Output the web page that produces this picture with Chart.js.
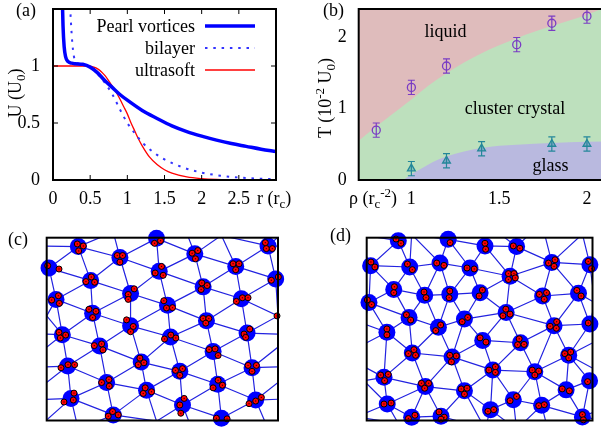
<!DOCTYPE html>
<html><head><meta charset="utf-8">
<script src="https://cdn.jsdelivr.net/npm/chart.js@4.4.0/dist/chart.umd.min.js"></script>
<style>
html,body{margin:0;padding:0;background:#fff;overflow:hidden;width:601px;height:429px;}
body{position:relative;font-family:"Liberation Serif",serif;}
canvas{position:absolute;}
.t{position:absolute;font:18px "Liberation Serif",serif;white-space:nowrap;color:#000;line-height:1;}
.rot{position:absolute;width:0;height:0;}
.rot > span{position:absolute;left:0;top:0;transform:translate(-50%,-50%) rotate(-90deg);white-space:nowrap;font:18px "Liberation Serif",serif;line-height:1;}
.sb{font-size:13px;position:relative;top:4px;}
.sp{font-size:13px;position:relative;top:-7px;}
</style></head><body>
<canvas id="ca" width="300" height="210" style="left:0;top:0"></canvas>
<canvas id="cb" width="320" height="210" style="left:300px;top:0"></canvas>
<canvas id="cc" width="300" height="209" style="left:0;top:220px"></canvas>
<canvas id="cd" width="301" height="209" style="left:300px;top:220px"></canvas>
<div class="t" style="left:16px;top:1px">(a)</div>
<div class="t" style="left:323px;top:1px">(b)</div>
<div class="t" style="left:8px;top:230px">(c)</div>
<div class="t" style="left:330px;top:226px">(d)</div>
<div class="t" style="left:257px;top:189px">r (r<span class="sb">c</span>)</div>
<div class="t" style="left:349px;top:189px">ρ (r<span class="sb">c</span><span class="sp">-2</span>)</div>
<div class="rot" style="left:15px;top:93px"><span>U (U<span class="sb">0</span>)</span></div>
<div class="rot" style="left:325px;top:98px"><span>T (10<span class="sp">-2</span> U<span class="sb">0</span>)</span></div>
<script>
// ---------- panel (a): potentials ----------
const pearlR = [0.125,0.135,0.15,0.17,0.2,0.25,0.3,0.4,0.5,0.6,0.7,0.8,0.9,1.0,1.2,1.4,1.6,1.8,2.0,2.2,2.4,2.6,2.8,3.0];
const pearlU = [1.6,1.35,1.17,1.08,1.04,1.025,1.02,1.015,0.99,0.94,0.87,0.81,0.75,0.70,0.61,0.54,0.475,0.425,0.385,0.35,0.32,0.295,0.27,0.25];
const bilR = [0.225,0.24,0.26,0.28,0.3,0.35,0.4,0.5,0.6,0.7,0.8,0.9,1.0,1.1,1.2,1.3,1.4,1.5,1.75,2.0,2.25,2.5,2.75,3.0];
const bilU = [1.6,1.4,1.2,1.09,1.04,1.02,1.015,0.99,0.93,0.85,0.75,0.62,0.5,0.41,0.33,0.27,0.22,0.18,0.11,0.065,0.038,0.022,0.012,0.007];
const usR = [0,0.3,0.45,0.5,0.55,0.6,0.65,0.7,0.75,0.8,0.85,0.9,0.95,1.0,1.05,1.1,1.15,1.2,1.3,1.4,1.5,1.6,1.8,2.0,2.2,2.5,3.0];
const usU = [1,1,1,0.998,0.99,0.975,0.95,0.915,0.87,0.82,0.77,0.71,0.645,0.58,0.5,0.43,0.36,0.30,0.20,0.135,0.09,0.06,0.027,0.012,0.005,0.001,0];
const aTicksX = [0,0.5,1,1.5,2,2.5];
const aTicksY = [0,0.5,1];
const aMarksX = [0.5,1,1.5,2,2.5];
const aMarksY = [0.5,1];

// ---------- panel (b): phase diagram ----------
const circX = [0.8,1.0,1.2,1.6,1.8,2.0];
const circT = [0.70,1.30,1.60,1.90,2.20,2.30];
const circE = [0.1,0.1,0.1,0.1,0.1,0.1];
const triX = [1.0,1.2,1.4,1.8,2.0];
const triT = [0.16,0.27,0.44,0.505,0.505];
const triE = [0.1,0.1,0.1,0.1,0.1];
const liqX = [0.70,0.80,0.90,1.00,1.10,1.20,1.30,1.40,1.50,1.60,1.70,1.80,1.90,2.00,2.10];
const liqT = [0.55,0.75,0.94,1.13,1.33,1.50,1.65,1.78,1.89,1.99,2.08,2.16,2.24,2.32,2.42];
const glX = [0.70,0.944,1.0,1.05,1.12,1.2,1.3,1.4,1.5,1.7,1.9,2.1];
const glT = [0,0,0.08,0.15,0.25,0.33,0.40,0.45,0.48,0.51,0.53,0.54];
const bTicksX = [1,1.5,2];
const bTicksY = [0,1,2];

// ---------- panel (c): cluster crystal snapshot ----------
const cCX = [235,470,585,805,147,360,478,708,828,272,610,392,168,725,503,278,620,392,187,742,512,299,640,424,203,757,540,320,654,440,213,548,768,340,665];
const cCY = [80,55,102,78,145,113,155,140,178,183,202,222,240,238,258,282,305,320,347,342,354,381,398,430,442,447,458,492,497,515,540,560,545,590,600];
const cSiteX = [835];
const cSiteY = [290];
const cRX = [232,250,236,464,482,577,594,587,797,800,818,143,177,352,368,360,466,485,490,700,718,708,815,836,258,274,284,606,622,604,385,403,385,155,175,178,710,728,745,492,500,518,267,288,278,610,627,618,832,380,400,392,177,181,197,733,750,738,494,513,528,283,305,309,628,646,655,420,432,415,183,204,224,745,770,757,527,548,540,305,327,328,640,655,668,430,436,455,192,222,220,553,540,543,748,768,785,325,338,355,650,682];
const cRY = [72,78,93,70,62,100,92,117,68,86,86,138,148,107,107,127,160,140,167,132,132,150,182,172,186,172,188,190,198,210,225,208,240,242,229,252,246,235,235,244,266,265,270,276,295,298,298,312,290,302,322,338,340,357,348,345,330,355,360,348,357,380,375,393,392,390,410,418,432,438,447,438,438,440,440,458,455,450,470,492,483,503,508,485,500,525,508,520,551,524,545,540,560,585,556,548,537,594,580,590,600,602];

// ---------- panel (d): cluster glass snapshot ----------
const dCX = [297,450,563,660,212,332,425,517,768,885,640,283,378,455,548,740,850,207,628,330,500,420,775,885,262,556,672,340,820,462,587,716,253,380,884,500,812,650,263,737,428,580,338,862];
const dCY = [62,58,78,80,138,142,130,145,128,135,170,210,228,225,220,230,222,250,280,295,300,325,320,315,340,365,372,403,410,415,455,460,477,505,487,518,515,545,558,562,595,575,598,597];
const dRX = [290,305,456,563,565,650,670,213,225,325,340,415,437,508,530,758,778,775,880,890,635,652,635,656,285,283,376,382,455,453,555,545,730,752,745,845,858,202,215,627,618,640,322,335,493,510,427,412,763,783,782,880,262,262,548,566,668,663,683,328,345,350,808,826,820,455,475,460,575,595,595,708,728,716,243,266,255,368,390,378,878,490,508,500,800,822,640,660,253,275,728,745,422,438,428,572,590,328,348,862,865];
const dRY = [57,70,68,70,88,78,85,127,142,133,150,130,137,145,148,130,120,140,125,147,162,162,180,175,202,220,218,235,215,235,212,230,225,220,240,213,230,242,256,270,290,285,287,303,308,295,318,335,322,308,328,312,330,348,357,370,360,378,377,405,393,410,405,400,418,410,412,430,455,445,462,455,458,470,470,468,487,495,495,510,490,512,510,528,512,518,548,535,558,555,563,560,582,598,604,580,575,602,592,590,606];

// ================= helpers =================
const serif = '"Liberation Serif", serif';
Chart.defaults.font.family = serif;
Chart.defaults.font.size = 18;
Chart.defaults.color = '#000';
Chart.defaults.animation = false;
const zip = (xs, ys) => xs.map((x, i) => ({x: x, y: ys[i]}));

const framePlugin = {
  id: 'frame',
  afterDraw(chart, args, o) {
    const ctx = chart.ctx, a = chart.chartArea;
    ctx.save();
    ctx.strokeStyle = '#000';
    if (o.marksX || o.marksY) {
      ctx.lineWidth = 1;
      ctx.beginPath();
      (o.marksX || []).forEach(v => {
        const px = chart.scales.x.getPixelForValue(v);
        ctx.moveTo(px, a.bottom); ctx.lineTo(px, a.bottom - 5);
        ctx.moveTo(px, a.top); ctx.lineTo(px, a.top + 5);
      });
      (o.marksY || []).forEach(v => {
        const py = chart.scales.y.getPixelForValue(v);
        ctx.moveTo(a.left, py); ctx.lineTo(a.left + 5, py);
        ctx.moveTo(a.right, py); ctx.lineTo(a.right - 5, py);
      });
      ctx.stroke();
    }
    ctx.lineWidth = o.lw || 2;
    ctx.strokeRect(a.left, a.top, a.right - a.left, a.bottom - a.top);
    ctx.restore();
  }
};

const legendPlugin = {
  id: 'glegend',
  afterDatasetsDraw(chart, args, o) {
    if (!o.on) return;
    const ctx = chart.ctx;
    chart.data.datasets.forEach((ds, i) => {
      const y = o.y0 + i * o.dy;
      ctx.save();
      ctx.font = '18px ' + serif;
      ctx.textAlign = 'right';
      ctx.textBaseline = 'alphabetic';
      ctx.fillStyle = '#000';
      ctx.fillText(ds.label, o.xText, y + 6);
      ctx.strokeStyle = ds.borderColor;
      ctx.lineWidth = ds.borderWidth;
      ctx.setLineDash(ds.borderDash || []);
      ctx.beginPath(); ctx.moveTo(o.x1, y); ctx.lineTo(o.x2, y); ctx.stroke();
      ctx.restore();
    });
  }
};

const bgPlugin = {
  id: 'bg',
  beforeDatasetsDraw(chart, args, o) {
    if (!o.color) return;
    const ctx = chart.ctx, a = chart.chartArea;
    ctx.save(); ctx.fillStyle = o.color;
    ctx.fillRect(a.left, a.top, a.right - a.left, a.bottom - a.top);
    ctx.restore();
  }
};

const errPlugin = {
  id: 'errbars',
  afterDatasetsDraw(chart) {
    const ctx = chart.ctx, sx = chart.scales.x, sy = chart.scales.y;
    chart.data.datasets.forEach(ds => {
      if (!ds.errs) return;
      ctx.save(); ctx.strokeStyle = ds.borderColor; ctx.lineWidth = 1.2;
      ctx.beginPath();
      ds.data.forEach((p, i) => {
        const px = sx.getPixelForValue(p.x);
        const y1 = sy.getPixelForValue(p.y - ds.errs[i]);
        const y2 = sy.getPixelForValue(p.y + ds.errs[i]);
        ctx.moveTo(px, y1); ctx.lineTo(px, y2);
        ctx.moveTo(px - 3.5, y1); ctx.lineTo(px + 3.5, y1);
        ctx.moveTo(px - 3.5, y2); ctx.lineTo(px + 3.5, y2);
      });
      ctx.stroke(); ctx.restore();
    });
  }
};

const notePlugin = {
  id: 'notes',
  afterDatasetsDraw(chart, args, o) {
    if (!o.items) return;
    const ctx = chart.ctx;
    ctx.save(); ctx.font = '18px ' + serif; ctx.fillStyle = '#000';
    ctx.textAlign = 'center'; ctx.textBaseline = 'alphabetic';
    o.items.forEach(it => {
      ctx.fillText(it.text, chart.scales.x.getPixelForValue(it.x), chart.scales.y.getPixelForValue(it.y));
    });
    ctx.restore();
  }
};

function axis(min, max, ticks, fitKey, fitVal, pad, extra) {
  return Object.assign({
    type: 'linear', min: min, max: max,
    afterBuildTicks: s => { s.ticks = ticks.map(v => ({value: v})); },
    afterFit: s => {
      s[fitKey] = fitVal;
      s.paddingTop = 0; s.paddingBottom = 0; s.paddingLeft = 0; s.paddingRight = 0;
    },
    grid: {display: false, drawTicks: false},
    border: {display: false},
    ticks: {padding: pad, autoSkip: false, maxRotation: 0, minRotation: 0, font: {size: 18, family: serif}, color: '#000',
            callback: v => String(v)}
  }, extra || {});
}

// ================= chart (a) =================
new Chart(document.getElementById('ca'), {
  type: 'line',
  data: {datasets: [
    {label: 'Pearl vortices', data: zip(pearlR, pearlU), borderColor: '#0000ff', borderWidth: 3.5, pointRadius: 0, cubicInterpolationMode: 'monotone', fill: false},
    {label: 'bilayer', data: zip(bilR, bilU), borderColor: '#3333ff', borderWidth: 2, borderDash: [2.5, 5.8], pointRadius: 0, cubicInterpolationMode: 'monotone', fill: false},
    {label: 'ultrasoft', data: zip(usR, usU), borderColor: '#ff0000', borderWidth: 1.3, pointRadius: 0, cubicInterpolationMode: 'monotone', fill: false}
  ]},
  options: {
    responsive: false, animation: false, events: [],
    layout: {padding: {top: 9, right: 24, left: 0, bottom: 0}},
    plugins: {legend: {display: false}, tooltip: {enabled: false},
      frame: {lw: 2, marksX: aMarksX, marksY: aMarksY},
      glegend: {on: true, xText: 195, x1: 205, x2: 255, y0: 26, dy: 22}},
    scales: {
      x: axis(0, 3, aTicksX, 'height', 30, 8),
      y: axis(0, 1.5, aTicksY, 'width', 53, 13)
    }
  },
  plugins: [framePlugin, legendPlugin]
});

// ================= chart (b) =================
new Chart(document.getElementById('cb'), {
  type: 'line',
  data: {datasets: [
    {label: 'liquid boundary', data: zip(liqX, liqT), borderWidth: 0, borderColor: 'rgba(0,0,0,0)', backgroundColor: '#bde0bd', pointRadius: 0, fill: 'origin', cubicInterpolationMode: 'monotone', order: 10},
    {label: 'glass boundary', data: zip(glX, glT), borderWidth: 0, borderColor: 'rgba(0,0,0,0)', backgroundColor: '#b9b9df', pointRadius: 0, fill: 'origin', cubicInterpolationMode: 'monotone', order: 9},
    {label: 'melting', data: zip(circX, circT), errs: circE, showLine: false, pointStyle: 'circle', pointRadius: 4, borderColor: '#7a3cc4', backgroundColor: 'rgba(0,0,0,0)', borderWidth: 1.3, order: 1},
    {label: 'glass', data: zip(triX, triT), errs: triE, showLine: false, pointStyle: 'triangle', pointRadius: 4.5, borderColor: '#23879a', backgroundColor: 'rgba(35,135,154,0.35)', borderWidth: 1.3, order: 2}
  ]},
  options: {
    responsive: false, animation: false, events: [],
    layout: {padding: {top: 9, right: 15.5, left: 0, bottom: 0}},
    plugins: {legend: {display: false}, tooltip: {enabled: false},
      bg: {color: '#dfbcbc'},
      frame: {lw: 2},
      notes: {items: [
        {text: 'liquid', x: 1.195, y: 2.01},
        {text: 'cluster crystal', x: 1.59, y: 0.92},
        {text: 'glass', x: 1.792, y: 0.12}
      ]}},
    scales: {
      x: axis(0.7, 2.1, bTicksX, 'height', 30, 8),
      y: axis(0, 2.4, bTicksY, 'width', 58.7, 12)
    }
  },
  plugins: [bgPlugin, errPlugin, notePlugin, framePlugin]
});

// ================= Delaunay (Bowyer-Watson) =================
function delaunayEdges(P) {
  const n = P.length;
  let minX = Infinity, minY = Infinity, maxX = -Infinity, maxY = -Infinity;
  P.forEach(p => { minX = Math.min(minX, p[0]); maxX = Math.max(maxX, p[0]); minY = Math.min(minY, p[1]); maxY = Math.max(maxY, p[1]); });
  const d = Math.max(maxX - minX, maxY - minY) * 20, mx = (minX + maxX) / 2, my = (minY + maxY) / 2;
  const Q = P.concat([[mx - d, my - d], [mx + d, my - d], [mx, my + d]]);
  function circ(t) {
    const a = Q[t[0]], b = Q[t[1]], c = Q[t[2]];
    const D = 2 * (a[0] * (b[1] - c[1]) + b[0] * (c[1] - a[1]) + c[0] * (a[1] - b[1]));
    const A = a[0] * a[0] + a[1] * a[1], B = b[0] * b[0] + b[1] * b[1], C = c[0] * c[0] + c[1] * c[1];
    const ux = (A * (b[1] - c[1]) + B * (c[1] - a[1]) + C * (a[1] - b[1])) / D;
    const uy = (A * (c[0] - b[0]) + B * (a[0] - c[0]) + C * (b[0] - a[0])) / D;
    return {t: t, x: ux, y: uy, r2: (a[0] - ux) ** 2 + (a[1] - uy) ** 2};
  }
  let T = [circ([n, n + 1, n + 2])];
  for (let i = 0; i < n; i++) {
    const px = Q[i][0], py = Q[i][1];
    const bad = [], good = [];
    T.forEach(c => { ((px - c.x) ** 2 + (py - c.y) ** 2 < c.r2 ? bad : good).push(c); });
    const cnt = new Map();
    bad.forEach(c => {
      const t = c.t;
      [[t[0], t[1]], [t[1], t[2]], [t[2], t[0]]].forEach(e => {
        const k = e[0] < e[1] ? e[0] + ',' + e[1] : e[1] + ',' + e[0];
        cnt.set(k, (cnt.get(k) || 0) + 1);
      });
    });
    cnt.forEach((v, k) => { if (v === 1) { const e = k.split(',').map(Number); good.push(circ([e[0], e[1], i])); } });
    T = good;
  }
  const edges = new Set();
  T.forEach(c => {
    const t = c.t;
    [[t[0], t[1]], [t[1], t[2]], [t[2], t[0]]].forEach(e => {
      if (e[0] >= n || e[1] >= n) return;
      edges.add(e[0] < e[1] ? e[0] + ',' + e[1] : e[1] + ',' + e[0]);
    });
  });
  return [...edges].map(k => k.split(',').map(Number));
}

function networkData(xs, ys, x0, x1, y0, y1) {
  const W = x1 - x0, H = y1 - y0;
  const pts = xs.map((x, i) => [x, ys[i]]);
  const all = pts.slice();
  const m = 160;
  for (let dx = -1; dx <= 1; dx++) for (let dy = -1; dy <= 1; dy++) {
    if (!dx && !dy) continue;
    pts.forEach(p => {
      const q = [p[0] + dx * W, p[1] + dy * H];
      if (q[0] < x0 - m || q[0] > x1 + m || q[1] < y0 - m || q[1] > y1 + m) return;
      if (all.some(r => (r[0] - q[0]) ** 2 + (r[1] - q[1]) ** 2 < 45 * 45)) return;
      all.push(q);
    });
  }
  const out = [];
  delaunayEdges(all).forEach(e => {
    const a = all[e[0]], b = all[e[1]];
    const inA = a[0] >= x0 - 60 && a[0] <= x1 + 60 && a[1] >= y0 - 60 && a[1] <= y1 + 60;
    const inB = b[0] >= x0 - 60 && b[0] <= x1 + 60 && b[1] >= y0 - 60 && b[1] <= y1 + 60;
    if (!inA && !inB) return;
    out.push({x: a[0], y: a[1]}, {x: b[0], y: b[1]}, {x: b[0], y: null});
  });
  return out;
}

function snapshot(id, CX, CY, SX, SY, RX, RY, x0, x1, y0, y1, pad) {
  const net = networkData(CX.concat(SX), CY.concat(SY), x0, x1, y0, y1);
  new Chart(document.getElementById(id), {
    type: 'scatter',
    data: {datasets: [
      {data: net, showLine: true, spanGaps: false, borderColor: '#2323e0', borderWidth: 1.2, pointRadius: 0, order: 4},
      {data: zip(CX, CY), pointRadius: 8.5, backgroundColor: '#0000ff', borderWidth: 0, clip: false, order: 3},
      {data: zip(RX, RY), pointRadius: 3, backgroundColor: '#ff0000', borderColor: '#000', borderWidth: 1, clip: false, order: 2},
      {data: zip(RX, RY), pointRadius: 0.7, backgroundColor: '#400000', borderWidth: 0, clip: false, order: 1}
    ]},
    options: {
      responsive: false, animation: false, events: [],
      layout: {padding: pad},
      plugins: {legend: {display: false}, tooltip: {enabled: false}, frame: {lw: 2}},
      scales: {
        x: {type: 'linear', min: x0, max: x1, display: false},
        y: {type: 'linear', min: y0, max: y1, reverse: true, display: false}
      }
    },
    plugins: [framePlugin]
  });
}

snapshot('cc', cCX, cCY, cSiteX, cSiteY, cRX, cRY, 140, 835, 53, 607, {left: 46.7, top: 17.7, right: 22, bottom: 7});
snapshot('cd', dCX, dCY, [], [], dRX, dRY, 200, 893, 53, 608, {left: 66.7, top: 17.7, right: 3.3, bottom: 6.3});
</script>
</body></html>
